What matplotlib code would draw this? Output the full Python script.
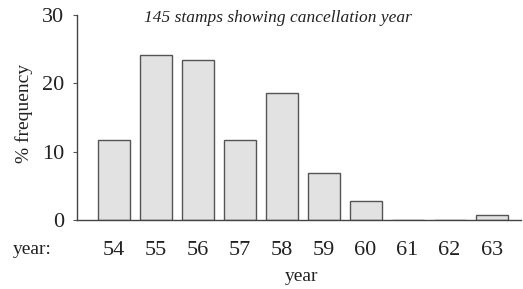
import matplotlib
matplotlib.use("Agg")
import matplotlib.pyplot as plt

years = [54, 55, 56, 57, 58, 59, 60, 61, 62, 63]
year_labels = ["54", "55", "56", "57", "58", "59", "60", "61", "62", "63"]
pct = [11.7, 24.1, 23.4, 11.7, 18.6, 6.9, 2.8, 0.0, 0.0, 0.7]
yticks = [0, 10, 20, 30]

W, H = 523, 289
fig = plt.figure(figsize=(W / 100, H / 100), dpi=100)
ax = fig.add_axes([77 / W, 1 - 220 / H, (521 - 77) / W, (220 - 15) / H])

serif = "Liberation Serif"
ax.bar(years, pct, width=0.76, color="#e2e2e2", edgecolor="#555555", linewidth=1.0)
ax.set_xlim(53.13, 63.7)
ax.set_ylim(0, 30)
ax.set_yticks(yticks)
ax.set_yticklabels([str(v) for v in yticks], fontfamily=serif, fontsize=16, color="#222222")
ax.set_xticks(years)
ax.set_xticklabels(year_labels, fontfamily=serif, fontsize=16, color="#222222")
ax.tick_params(axis="x", length=0, pad=15)
ax.tick_params(axis="y", length=3, width=0.8, color="#555555", pad=6)
for s in ["top", "right"]:
    ax.spines[s].set_visible(False)
for s in ["left", "bottom"]:
    ax.spines[s].set_color("#444444")
    ax.spines[s].set_linewidth(1.0)

ax.set_ylabel("% frequency", fontfamily=serif, fontsize=14, color="#222222")
ax.yaxis.set_label_coords(-44 / (521 - 77), 0.52)
ax.set_xlabel("year", fontfamily=serif, fontsize=14, color="#222222")
ax.xaxis.set_label_coords(0.505, -48 / (220 - 15))

fig.text(13 / W, 1 - 249 / H, "year:", fontfamily=serif, fontsize=14, color="#222222",
         ha="left", va="center")
fig.text(278 / W, 1 - 18 / H, "145 stamps showing cancellation year", fontfamily=serif,
         fontstyle="italic", fontsize=12.5, color="#222222", ha="center", va="center")

fig.savefig("out.png", dpi=100)
